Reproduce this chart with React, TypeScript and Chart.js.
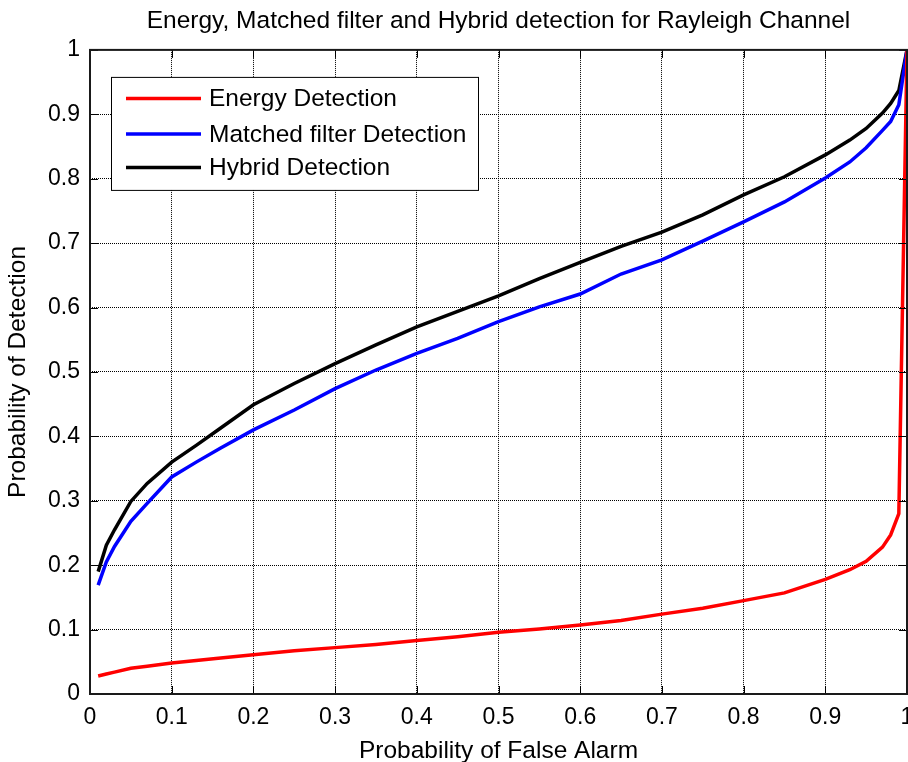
import React, { useEffect, useRef } from "react";
import { Chart, registerables } from "chart.js";

Chart.register(...registerables);

const FONT = "'Liberation Sans', Arial, Helvetica, sans-serif";

const chartTitle = "Energy, Matched filter and Hybrid detection for Rayleigh Channel";
const xAxisTitle = "Probability of False Alarm";
const yAxisTitle = "Probability of Detection";

const tickLabels = ["0", "0.1", "0.2", "0.3", "0.4", "0.5", "0.6", "0.7", "0.8", "0.9", "1"];

const falseAlarm = [
  0.01, 0.02, 0.03, 0.05, 0.07, 0.1, 0.13, 0.16, 0.2, 0.25, 0.3, 0.35, 0.4, 0.45, 0.5,
  0.55, 0.6, 0.65, 0.7, 0.75, 0.8, 0.85, 0.9, 0.93, 0.95, 0.97, 0.98, 0.99, 1.0,
];

const energyDetection = [
  0.028, 0.031, 0.034, 0.04, 0.043, 0.048, 0.052, 0.056, 0.061, 0.067, 0.072, 0.077, 0.083, 0.089, 0.096,
  0.101, 0.107, 0.114, 0.124, 0.133, 0.145, 0.157, 0.178, 0.193, 0.206, 0.228, 0.247, 0.28, 1.0,
];

const matchedFilterDetection = [
  0.169, 0.205, 0.229, 0.268, 0.296, 0.337, 0.36, 0.382, 0.41, 0.441, 0.474, 0.503, 0.529, 0.552, 0.578,
  0.601, 0.621, 0.652, 0.674, 0.703, 0.733, 0.764, 0.801, 0.826, 0.848, 0.875, 0.889, 0.915, 1.0,
];

const hybridDetection = [
  0.19, 0.231, 0.255, 0.299, 0.327, 0.36, 0.386, 0.413, 0.449, 0.482, 0.513, 0.542, 0.57, 0.594, 0.618,
  0.645, 0.67, 0.695, 0.717, 0.744, 0.775, 0.803, 0.837, 0.86, 0.878, 0.902, 0.917, 0.937, 1.0,
];

const seriesNames = ["Energy Detection", "Matched filter Detection", "Hybrid Detection"];
const seriesColors = ["#ff0000", "#0000ff", "#000000"];

const framePlugin = {
  id: "matlabFrame",
  afterDraw(chart: any) {
    const { ctx, chartArea, scales } = chart;
    const { left, top, right, bottom } = chartArea;
    ctx.save();
    // inner tick marks
    ctx.strokeStyle = "#000";
    ctx.lineWidth = 1;
    const tl = 8;
    scales.x.ticks.forEach((t: any) => {
      const px = Math.round(scales.x.getPixelForValue(t.value)) + 0.5;
      ctx.beginPath();
      ctx.moveTo(px, bottom);
      ctx.lineTo(px, bottom - tl);
      ctx.moveTo(px, top);
      ctx.lineTo(px, top + tl);
      ctx.stroke();
    });
    scales.y.ticks.forEach((t: any) => {
      const py = Math.round(scales.y.getPixelForValue(t.value)) + 0.5;
      ctx.beginPath();
      ctx.moveTo(left, py);
      ctx.lineTo(left + tl, py);
      ctx.moveTo(right, py);
      ctx.lineTo(right - tl, py);
      ctx.stroke();
    });
    // axes box
    ctx.strokeStyle = "#1a1a1a";
    ctx.lineWidth = 2;
    ctx.strokeRect(left, top, right - left, bottom - top);

    // legend box
    const bx = left + 21;
    const by = top + 27;
    const bw = 367;
    const bh = 113;
    ctx.fillStyle = "#fff";
    ctx.fillRect(bx, by, bw, bh);
    ctx.strokeStyle = "#000";
    ctx.lineWidth = 1;
    ctx.strokeRect(bx + 0.5, by + 0.5, bw, bh);
    const rows = [21.5, 57, 90.5];
    chart.data.datasets.forEach((ds: any, i: number) => {
      const y = by + rows[i];
      ctx.strokeStyle = ds.borderColor;
      ctx.lineWidth = 3.5;
      ctx.beginPath();
      ctx.moveTo(bx + 15, y);
      ctx.lineTo(bx + 90, y);
      ctx.stroke();
      ctx.fillStyle = "#000";
      ctx.font = `24.5px ${FONT}`;
      ctx.textAlign = "left";
      ctx.textBaseline = "middle";
      ctx.fillText(ds.label, bx + 98, y + 1);
    });
    ctx.restore();
  },
};

export default function App() {
  const canvasRef = useRef<HTMLCanvasElement | null>(null);

  useEffect(() => {
    const canvas = canvasRef.current;
    if (!canvas) return;
    const series = [energyDetection, matchedFilterDetection, hybridDetection];
    const chart = new Chart(canvas, {
      type: "line",
      data: {
        datasets: series.map((vals, i) => ({
          label: seriesNames[i],
          data: falseAlarm.map((x, j) => ({ x, y: vals[j] })),
          borderColor: seriesColors[i],
          backgroundColor: seriesColors[i],
          borderWidth: 3.5,
          pointRadius: 0,
          tension: 0,
          fill: false,
        })),
      },
      options: {
        responsive: false,
        animation: false,
        devicePixelRatio: 1,
        layout: { padding: 0 },
        plugins: {
          legend: { display: false },
          tooltip: { enabled: false },
          title: {
            display: true,
            fullSize: false,
            text: chartTitle,
            color: "#000",
            font: { family: FONT, size: 24.5, weight: "normal" },
            padding: { top: 7, bottom: 13.5 },
          },
        },
        scales: {
          x: {
            type: "linear",
            min: 0,
            max: 1,
            ticks: {
              stepSize: 0.1,
              autoSkip: false,
              maxRotation: 0,
              color: "#000",
              font: { family: FONT, size: 23 },
              padding: 10,
              callback: (_v: any, i: number) => tickLabels[i],
            },
            grid: { color: "#000", lineWidth: 1, drawTicks: false },
            border: { display: false, dash: [1, 1] },
            title: {
              display: true,
              text: xAxisTitle,
              color: "#000",
              font: { family: FONT, size: 24.5 },
              padding: { top: 0, bottom: -4 },
            },
            afterFit: (s: any) => {
              s.height = 68;
              s.paddingRight = 1;
              s.paddingLeft = 0;
            },
          },
          y: {
            type: "linear",
            min: 0,
            max: 1,
            ticks: {
              stepSize: 0.1,
              autoSkip: false,
              color: "#000",
              font: { family: FONT, size: 23 },
              padding: 10,
              callback: (_v: any, i: number) => tickLabels[i],
            },
            grid: { color: "#000", lineWidth: 1, drawTicks: false },
            border: { display: false, dash: [1, 1] },
            title: {
              display: true,
              text: yAxisTitle,
              color: "#000",
              font: { family: FONT, size: 24.5 },
              padding: { top: 4, bottom: 0 },
            },
            afterFit: (s: any) => {
              s.width = 90;
            },
          },
        },
      },
      plugins: [framePlugin],
    } as any);
    return () => chart.destroy();
  }, []);

  return (
    <div
      style={{
        position: "fixed",
        left: 0,
        top: 0,
        width: 908,
        height: 762,
        overflow: "hidden",
        background: "#fff",
      }}
    >
      <canvas ref={canvasRef} width={908} height={762} style={{ display: "block" }} />
    </div>
  );
}
